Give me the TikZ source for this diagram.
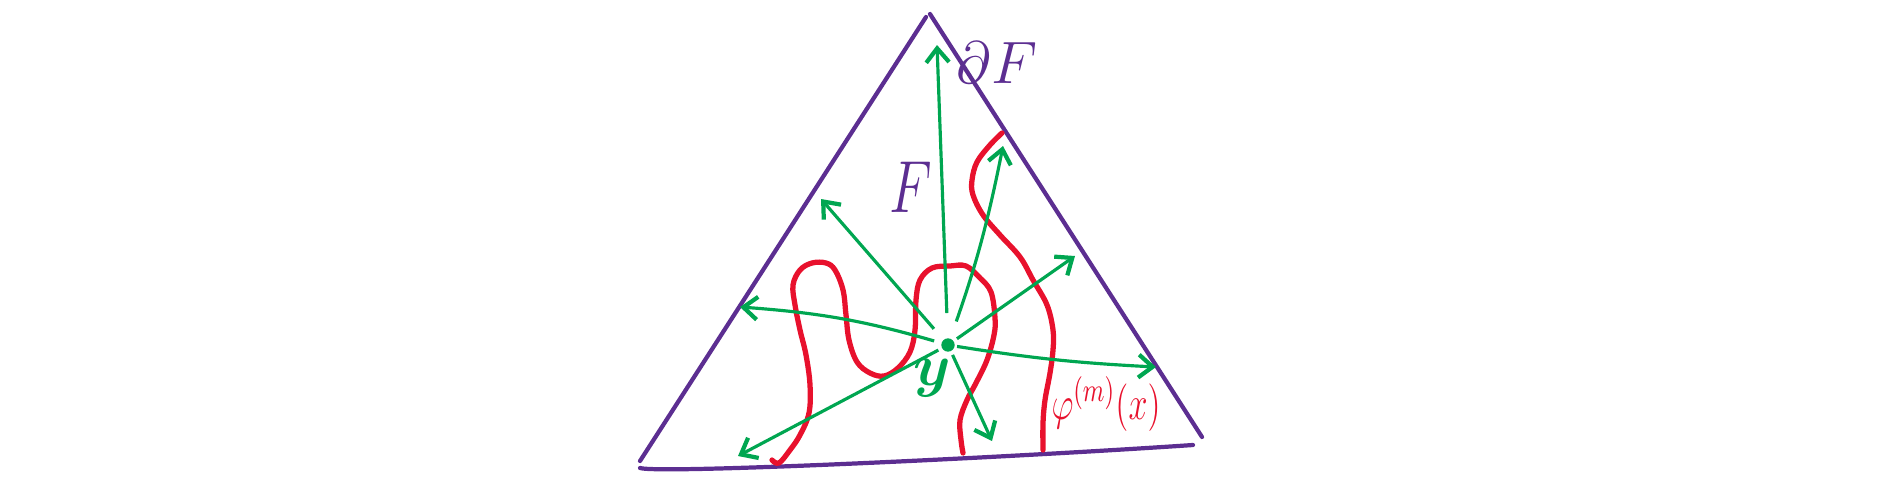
\documentclass[tikz,border=0pt]{standalone}
\usepackage{fix-cm}
\usepackage{graphicx}
\usetikzlibrary{arrows.meta}
\definecolor{inkpurple}{RGB}{92,46,145}
\definecolor{inkred}{RGB}{232,17,45}
\definecolor{inkgreen}{RGB}{0,166,81}
\tikzset{
side/.style={draw=inkpurple, line width=1.2pt, line cap=round},
ray/.style={draw=inkgreen, line width=0.9pt,
	-{Straight Barb[length=4pt,width=6.5pt,line width=1.2pt]}},
orbit/.style={draw=inkred, line width=1.5pt, line cap=round, smooth, tension=0.6},
point/.style={circle, fill=inkgreen, inner sep=0pt, minimum size=3.8pt},
ink/.style={inner sep=0pt, anchor=base}
}

\begin{document}
\begin{tikzpicture}[x=0.01cm, y=-0.01cm]
	\useasboundingbox (0,0) rectangle (1904,494);
	% triangle F
	\coordinate (topl) at (926,17);
	\coordinate (topr) at (930,14);
	\coordinate (bl) at (640,461);
	\coordinate (br) at (1202,437);
	\coordinate (basel) at (640,468);
	\coordinate (baser) at (1193,445);
	\draw[side] (topl) -- (bl);
	\draw[side] (topr) -- (br);
	\draw[side] (basel) .. controls (660,474) and (1000,458) .. (baser);
	% the orbit
	\draw[orbit] plot coordinates {(772,460) (779,463) (790,450) (800,435) (809,413)
		(810,385) (806,355) (800,330) (795,305) (793,285) (800,270) (812,263) (826,263)
		(835,270) (843,290) (846,315) (849,340) (857,362) (870,373) (884,376) (898,368)
		(910,352) (915,330) (916,300) (920,280) (932,268) (950,266) (966,266) (980,278)
		(991,292) (995,318) (994,335) (987,360) (976,383) (967,400) (960,420) (961,440)
		(963,453)};
	\draw[orbit] plot coordinates {(1002,133) (990,145) (977,162) (972,180) (973,195)
		(983,215) (1000,235) (1020,257) (1033,280) (1047,305) (1053,330) (1053,350)
		(1050,373) (1045,400) (1043,423) (1043,450)};
	% rays from y
	\node[point] (y) at (948,345) {};
	\coordinate (up) at (937,45);
	\coordinate (upleft) at (821,199);
	\coordinate (steep) at (1003,146);
	\coordinate (left) at (740,307);
	\coordinate (rightup) at (1075,256);
	\coordinate (right) at (1156,367);
	\coordinate (downleft) at (738,456);
	\coordinate (down) at (992,441);
	\draw[ray, shorten <=7pt] (y) -- (up);
	\draw[ray, shorten <=4pt] (y) -- (upleft);
	\draw[ray, shorten <=5pt] (y) to[bend right=4] (steep);
	\draw[ray, shorten <=2pt] (y) to[bend right=6] (left);
	\draw[ray, shorten <=1pt] (y) -- (rightup);
	\draw[ray, shorten <=0.5pt] (y) to[bend right=3] (right);
	\draw[ray, shorten <=1pt] (y) -- (downleft);
	\draw[ray, shorten <=1pt] (y) -- (down);
	% labels
	\node[ink, text=inkpurple, font=\fontsize{17}{20}\selectfont] (dF) at (997,83) {$\partial F$};
	\node[ink, text=inkpurple, font=\fontsize{21}{24}\selectfont] (F) at (911,212) {\scalebox{0.75}[1]{$F$}};
	\node[ink, text=inkgreen, font=\boldmath\fontsize{17}{20}\selectfont] (ylab) at (932,385) {$y$};
	\node[ink, text=inkred, font=\fontsize{13.5}{16}\selectfont] (phi) at (1106,419) {\scalebox{0.72}[1]{$\varphi^{(m)}(x)$}};
\end{tikzpicture}
\end{document}
